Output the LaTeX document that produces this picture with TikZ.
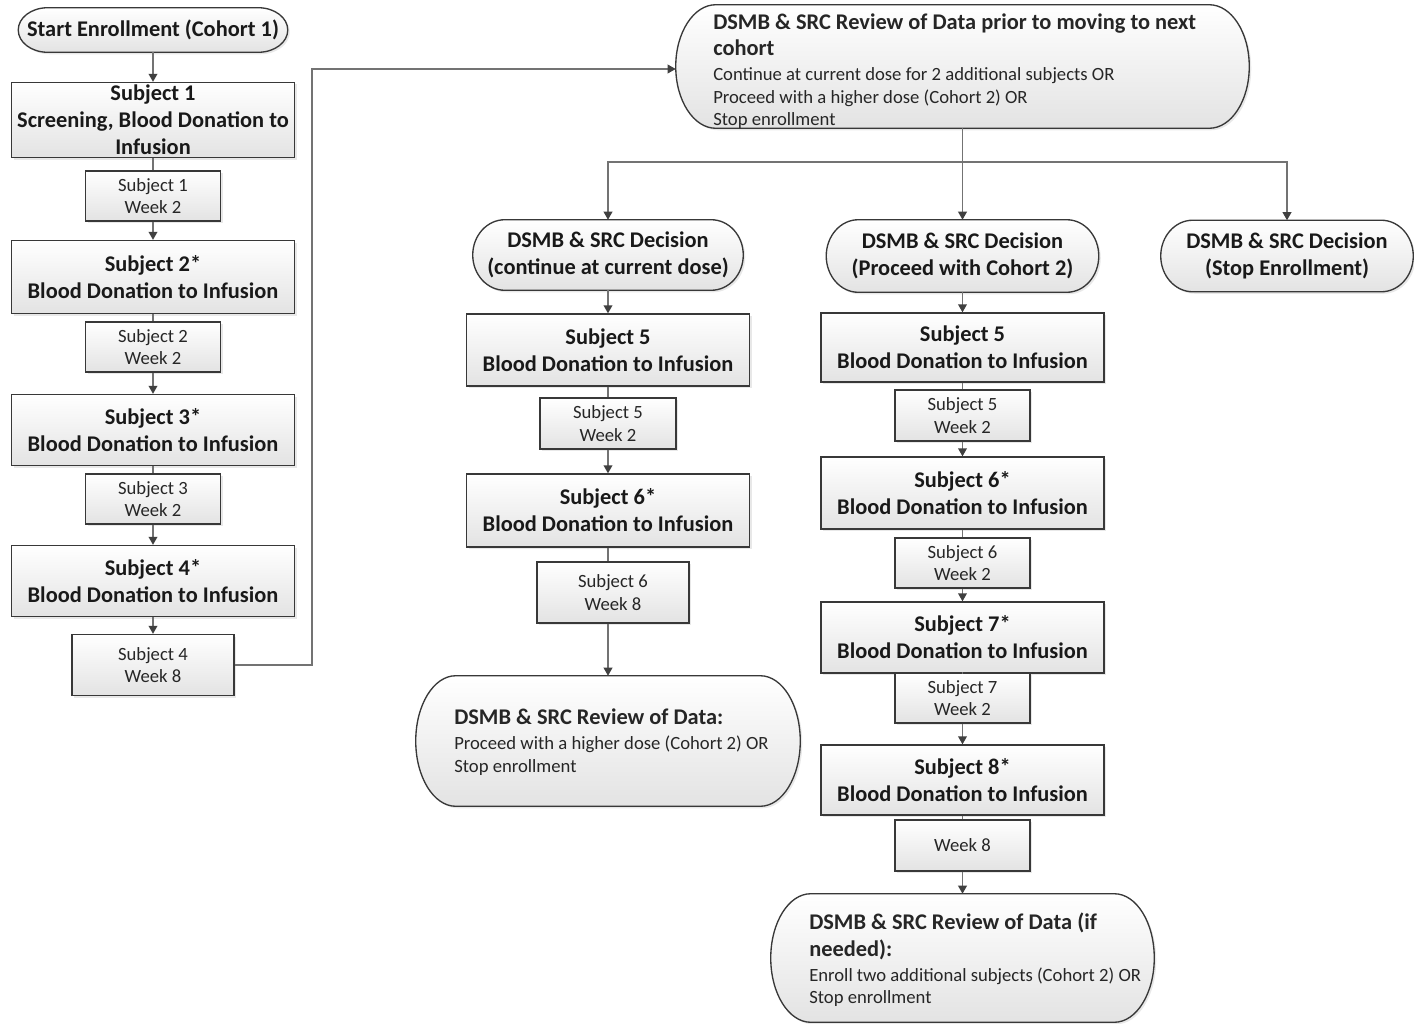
\documentclass[tikz,border=0pt]{standalone}
\usepackage{fontspec}
\setmainfont{Carlito}
\usetikzlibrary{arrows.meta,shadows,calc}
\newcommand{\pillshape}[2]{%
  \path[base] let \p1=(#1.north east), \p2=(#1.south west), \n1={(\y1-\y2)/2} in
  (\x2+#2,\y1) -- (\x1-#2,\y1) arc[start angle=90,end angle=-90,x radius=#2,y radius=\n1]
  -- (\x2+#2,\y2) arc[start angle=270,end angle=90,x radius=#2,y radius=\n1] -- cycle;}
\newcommand{\bt}{\bfseries\fontsize{16.8}{20.25}\selectfont}
\tikzset{
  base/.style={draw=black!78, line width=1pt, top color=white, bottom color=black!11,
    drop shadow={shadow xshift=1.5pt, shadow yshift=-1.5pt, opacity=0.18}},
  bigbox/.style={base, rectangle, align=center, inner sep=0pt, text=black!90,
    font=\bfseries\fontsize{16.8}{20.25}\selectfont},
  smallbox/.style={base, rectangle, align=center, inner sep=0pt, text=black!85,
    font=\fontsize{14}{16.8}\selectfont},
  wd/.style={minimum width=#1*0.75pt},
  ht/.style={minimum height=#1*0.75pt},
  holder/.style={rectangle, inner sep=0pt, draw=none},
  pilltext/.style={align=center, inner sep=0pt, text=black!90,
    font=\bfseries\fontsize{16.8}{20.25}\selectfont},
  revtext/.style={align=left, inner sep=0pt, anchor=west, text=black!85,
    font=\fontsize{14}{17}\selectfont},
  arr/.style={draw=black!55, line width=1.1pt,
    -{Triangle[length=6pt,width=6.5pt,color=black!75]}},
  ln/.style={draw=black!55, line width=1.1pt},
}
\begin{document}
\begin{tikzpicture}[x=0.75pt,y=-0.75pt]
\useasboundingbox (0,0) rectangle (1414,1024);
\fill[white] (0,0) rectangle (1414,1024);

% ---------- left column ----------
\node[holder, wd=269, ht=44] (start) at (153,30) {};
\pillshape{start}{22pt}
\node[pilltext] (startt) at (153,30) {Start Enrollment (Cohort 1)};

\node[bigbox, wd=283, ht=75] (s1) at (153,120) {Subject 1\\Screening, Blood Donation to\\Infusion};
\node[smallbox, wd=135, ht=50] (s1w) at (153,196) {Subject 1\\Week 2};
\node[bigbox, wd=283, ht=73] (s2) at (153,277) {Subject 2*\\Blood Donation to Infusion};
\node[smallbox, wd=135, ht=50] (s2w) at (153,347) {Subject 2\\Week 2};
\node[bigbox, wd=283, ht=71] (s3) at (153,430) {Subject 3*\\Blood Donation to Infusion};
\node[smallbox, wd=135, ht=50] (s3w) at (153,499) {Subject 3\\Week 2};
\node[bigbox, wd=283, ht=71] (s4) at (153,581) {Subject 4*\\Blood Donation to Infusion};
\node[smallbox, wd=162, ht=61] (s4w) at (153,665) {Subject 4\\Week 8};

% ---------- top review ----------
\node[holder, wd=573, ht=123] (rev1) at (962.5,66.5) {};
\pillshape{rev1}{30pt}
\node[revtext] (rev1t) at (713,71) {{\bt DSMB \& SRC Review of Data prior to moving to next}\\[3pt]{\bt cohort}\\[1.5pt]Continue at current dose for 2 additional subjects OR\\Proceed with a higher dose (Cohort 2) OR\\Stop enrollment};

\coordinate (split) at (962.5,162);
\coordinate (bend) at (312,665);

% ---------- decisions ----------
\node[holder, wd=270, ht=70] (d1) at (608,255) {};
\pillshape{d1}{24pt}
\node[pilltext] (d1t) at (608,255) {DSMB \& SRC Decision\\(continue at current dose)};
\node[holder, wd=272, ht=72] (d2) at (962.5,256) {};
\pillshape{d2}{24pt}
\node[pilltext] (d2t) at (962.5,256) {DSMB \& SRC Decision\\(Proceed with Cohort 2)};
\node[holder, wd=252, ht=71] (d3) at (1287,256) {};
\pillshape{d3}{24pt}
\node[pilltext] (d3t) at (1287,256) {DSMB \& SRC Decision\\(Stop Enrollment)};

% ---------- middle column ----------
\node[bigbox, wd=283, ht=72] (m5) at (608,350) {Subject 5\\Blood Donation to Infusion};
\node[smallbox, wd=136, ht=51] (m5w) at (608,423.5) {Subject 5\\Week 2};
\node[bigbox, wd=283, ht=73] (m6) at (608,510.5) {Subject 6*\\Blood Donation to Infusion};
\node[smallbox, wd=152, ht=61] (m6w) at (613,592.5) {Subject 6\\Week 8};
\node[holder, wd=384, ht=130] (rev2) at (608,741) {};
\pillshape{rev2}{30pt}
\node[revtext] (rev2t) at (454,742) {{\bt DSMB \& SRC Review of Data:}\\[1.5pt]Proceed with a higher dose (Cohort 2) OR\\Stop enrollment};

% ---------- right column ----------
\node[bigbox, wd=283, ht=69] (r5) at (962.5,347.5) {Subject 5\\Blood Donation to Infusion};
\node[smallbox, wd=135, ht=51] (r5w) at (962.5,415.5) {Subject 5\\Week 2};
\node[bigbox, wd=283, ht=72] (r6) at (962.5,493) {Subject 6*\\Blood Donation to Infusion};
\node[smallbox, wd=135, ht=50] (r6w) at (962.5,563) {Subject 6\\Week 2};
\node[bigbox, wd=283, ht=71] (r7) at (962.5,637.5) {Subject 7*\\Blood Donation to Infusion};
\node[smallbox, wd=135, ht=50] (r7w) at (962.5,698) {Subject 7\\Week 2};
\node[bigbox, wd=283, ht=70] (r8) at (962.5,780) {Subject 8*\\Blood Donation to Infusion};
\node[smallbox, wd=135, ht=51] (r8w) at (962.5,845.5) {Week 8};
\node[holder, wd=383, ht=128] (rev3) at (962.5,958) {};
\pillshape{rev3}{30pt}
\node[revtext] (rev3t) at (809,960) {{\bt DSMB \& SRC Review of Data (if}\\[3pt]{\bt needed):}\\[1.5pt]Enroll two additional subjects (Cohort 2) OR\\Stop enrollment};

% ---------- connectors ----------
\draw[arr] (start) -- (s1);
\draw[ln] (s1) -- (s1w);
\draw[arr] (s1w) -- (s2);
\draw[ln] (s2) -- (s2w);
\draw[arr] (s2w) -- (s3);
\draw[ln] (s3) -- (s3w);
\draw[arr] (s3w) -- (s4);
\draw[arr] (s4) -- (s4w);
\draw[arr] (s4w.east) -- (bend) |- ($(rev1.west)+(0,2.5)$);

\draw[ln] (rev1.south) -- (split);
\draw[arr] (split) -| (d1);
\draw[arr] (split) -- (d2);
\draw[arr] (split) -| (d3);

\draw[arr] (d1) -- (m5);
\draw[ln] (m5) -- (m5w);
\draw[arr] (m5w) -- (m6);
\draw[ln] (m6.south) -- (m6.south |- m6w.north);
\draw[arr] (m6w.south -| m6.south) -- (rev2);

\draw[arr] (d2) -- (r5);
\draw[ln] (r5) -- (r5w);
\draw[arr] (r5w) -- (r6);
\draw[ln] (r6) -- (r6w);
\draw[arr] (r6w) -- (r7);
\draw[ln] (r7) -- (r7w);
\draw[arr] (r7w) -- (r8);
\draw[ln] (r8) -- (r8w);
\draw[arr] (r8w) -- (rev3);
\end{tikzpicture}
\end{document}
